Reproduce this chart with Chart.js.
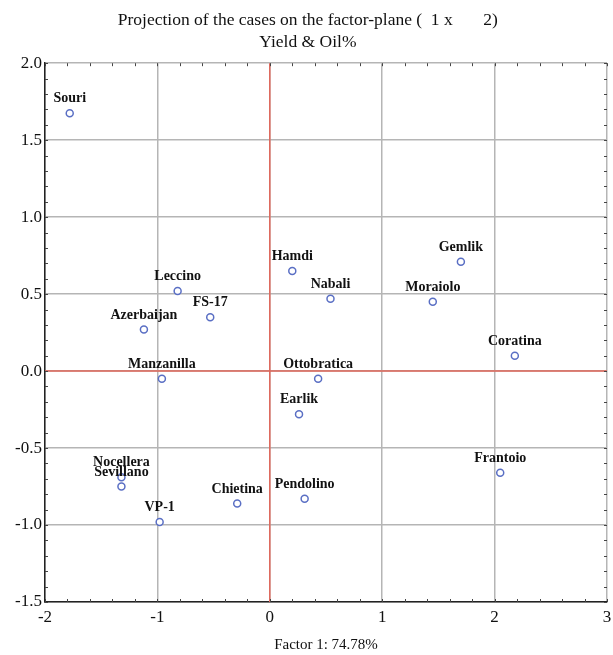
<!DOCTYPE html>
<html>
<head>
<meta charset="utf-8">
<script src="https://cdn.jsdelivr.net/npm/chart.js@4/dist/chart.umd.min.js"></script>
<style>
  html, body { margin: 0; padding: 0; background: #fff; }
  #wrap { width: 613px; height: 655px; }
</style>
</head>
<body>
<div id="wrap"><canvas id="grafico"></canvas></div>
<script>
// cultivar names and their scores on factor 1 / factor 2
var cultivars = ['Souri', 'Leccino', 'FS-17', 'Azerbaijan', 'Manzanilla', 'Hamdi', 'Nabali',
  'Gemlik', 'Moraiolo', 'Coratina', 'Ottobratica', 'Earlik', 'Frantoio', 'Pendolino',
  'Chietina', 'VP-1', 'Nocellera', 'Sevillano'];
var factor1 = [-1.78, -0.82, -0.53, -1.12, -0.96, 0.20, 0.54,
  1.70, 1.45, 2.18, 0.43, 0.26, 2.05, 0.31,
  -0.29, -0.98, -1.32, -1.32];
var factor2 = [1.675, 0.52, 0.35, 0.27, -0.05, 0.65, 0.47,
  0.71, 0.45, 0.10, -0.05, -0.28, -0.66, -0.83,
  -0.86, -0.98, -0.69, -0.75];
var xTicks = [-2, -1, 0, 1, 2, 3];
var yTicks = [-1.5, -1.0, -0.5, 0.0, 0.5, 1.0, 1.5, 2.0];

var punti = [];
for (var i = 0; i < cultivars.length; i++) {
  punti.push({ x: factor1[i], y: factor2[i] });
}

var serif = '"Liberation Serif", "Times New Roman", serif';

// red zero lines, minor ticks and point labels
var pluginExtra = {
  id: 'extra',
  beforeDatasetsDraw: function (chart) {
    var ctx = chart.ctx, a = chart.chartArea;
    var sx = chart.scales.x, sy = chart.scales.y;
    ctx.save();
    ctx.strokeStyle = '#e0675a';
    ctx.lineWidth = 1.5;
    var x0 = sx.getPixelForValue(0), y0 = sy.getPixelForValue(0);
    ctx.beginPath();
    ctx.moveTo(x0, a.top); ctx.lineTo(x0, a.bottom);
    ctx.moveTo(a.left, y0); ctx.lineTo(a.right, y0);
    ctx.stroke();
    // minor ticks
    ctx.strokeStyle = '#444';
    ctx.lineWidth = 1;
    ctx.beginPath();
    for (var v = -2; v <= 3.001; v += 0.2) {
      var px = Math.round(sx.getPixelForValue(v)) + 0.5;
      ctx.moveTo(px, a.top); ctx.lineTo(px, a.top + 3);
      ctx.moveTo(px, a.bottom); ctx.lineTo(px, a.bottom - 3);
    }
    for (var w = -1.5; w <= 2.001; w += 0.1) {
      var py = Math.round(sy.getPixelForValue(w)) + 0.5;
      ctx.moveTo(a.left, py); ctx.lineTo(a.left + 3, py);
      ctx.moveTo(a.right, py); ctx.lineTo(a.right - 3, py);
    }
    ctx.stroke();
    ctx.restore();
  },
  afterDatasetsDraw: function (chart) {
    var ctx = chart.ctx;
    var meta = chart.getDatasetMeta(0);
    ctx.save();
    ctx.font = 'bold 14px ' + serif;
    ctx.fillStyle = '#111';
    ctx.textAlign = 'center';
    ctx.textBaseline = 'middle';
    meta.data.forEach(function (el, k) {
      ctx.fillText(cultivars[k], el.x, el.y - 14.5);
    });
    ctx.restore();
  }
};

var chart = new Chart(document.getElementById('grafico'), {
  type: 'scatter',
  data: {
    datasets: [{
      data: punti,
      pointRadius: 3.5,
      pointHoverRadius: 3.5,
      pointBorderWidth: 1.5,
      pointBorderColor: '#5a6fc4',
      pointBackgroundColor: '#ffffff'
    }]
  },
  plugins: [pluginExtra],
  options: {
    responsive: true,
    maintainAspectRatio: false,
    animation: false,
    layout: { padding: { left: 0, right: 6, top: 0, bottom: 0 } },
    plugins: {
      legend: { display: false },
      tooltip: { enabled: false },
      title: {
        display: true,
        text: ['  Projection of the cases on the factor-plane (  1 x       2)', '  Yield & Oil%'],
        color: '#111',
        font: { family: serif, size: 17.5, weight: 'normal', lineHeight: 1.22 },
        padding: { top: 10, bottom: 10.5 }
      }
    },
    scales: {
      x: {
        type: 'linear',
        min: -2, max: 3,
        afterBuildTicks: function (s) { s.ticks = xTicks.map(function (v) { return { value: v }; }); },
        afterFit: function (s) { s.height = 53; s.paddingRight = 0; s.paddingLeft = 0; },
        grid: { color: '#b5b5b5', lineWidth: 1.5, drawTicks: false },
        border: { color: '#222', width: 1.5 },
        ticks: { color: '#111', padding: 5, font: { family: serif, size: 17 } },
        title: {
          display: true,
          text: 'Factor 1: 74.78%',
          color: '#111',
          font: { family: serif, size: 15 },
          padding: { top: 0, bottom: 1 }
        }
      },
      y: {
        type: 'linear',
        min: -1.5, max: 2.0,
        afterBuildTicks: function (s) { s.ticks = yTicks.map(function (v) { return { value: v }; }); },
        afterFit: function (s) { s.width = 45; },
        grid: { color: '#b5b5b5', lineWidth: 1.5, drawTicks: false },
        border: { color: '#222', width: 1.5 },
        ticks: {
          color: '#111', padding: 3, font: { family: serif, size: 17 },
          callback: function (v) { return v.toFixed(1); }
        }
      }
    }
  }
});
</script>
</body>
</html>
